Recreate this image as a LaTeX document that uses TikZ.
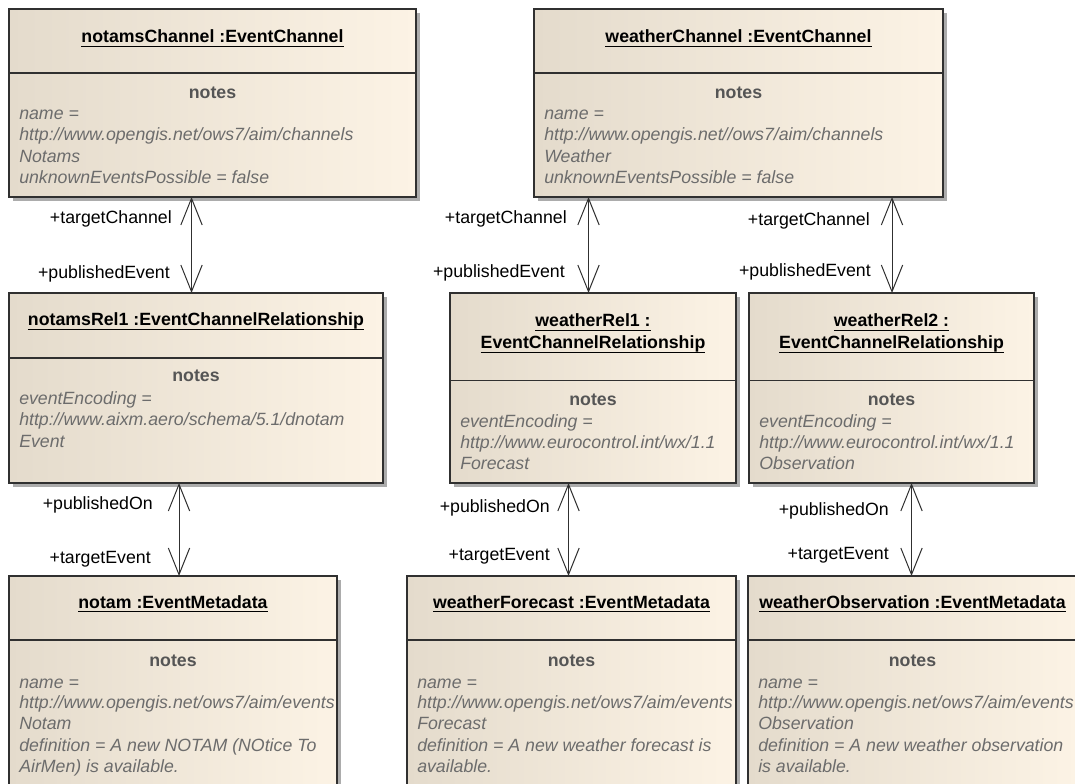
\documentclass[tikz,border=0pt]{standalone}
\usepackage{fontspec}
\setmainfont{Liberation Sans}
\usetikzlibrary{arrows.meta,fit,shadows}

\definecolor{boxL}{RGB}{228,219,204}
\definecolor{boxR}{RGB}{252,243,229}
\definecolor{edge}{RGB}{48,48,48}
\definecolor{shadegray}{RGB}{172,172,172}
\definecolor{notehead}{RGB}{85,85,85}
\definecolor{notetext}{RGB}{108,108,108}

% underlined object name: rule a fixed distance below the baseline
\newsavebox\ulbox
\newcommand\ulined[1]{\sbox\ulbox{#1}\rlap{\rule[-3pt]{\wd\ulbox}{0.75pt}}\usebox\ulbox}

\tikzset{
  objbox/.style={draw=edge, line width=0.9pt, inner sep=0pt, outer sep=0pt,
    left color=boxL, right color=boxR,
    drop shadow={shadow xshift=3pt, shadow yshift=-3pt, fill=shadegray, opacity=1}},
  divider/.style={draw=edge, line width=0.9pt},
  objtitle/.style={font=\fontsize{13.3}{16}\selectfont\bfseries, text=black, inner sep=0pt, anchor=base},
  notehdr/.style={font=\fontsize{13.3}{16}\selectfont\bfseries, text=notehead, inner sep=0pt, anchor=base},
  noteline/.style={font=\fontsize{13.3}{16}\selectfont\itshape, text=notetext, inner sep=0pt, anchor=base west},
  role/.style={font=\fontsize{13.3}{16}\selectfont, text=black, inner sep=0pt, anchor=base east},
  assoc/.style={draw=edge, line width=0.75pt,
    {Straight Barb[length=20pt,width=16pt]}-{Straight Barb[length=20pt,width=16pt]}},
}

\begin{document}
\begin{tikzpicture}[x=0.75pt,y=-0.75pt]
\useasboundingbox (0,0) rectangle (1075,784);
\fill[white] (0,0) rectangle (1075,784);
\clip (0,0) rectangle (1075,784);

% ---------- channels ----------
\node[objbox, fit={(9,9) (416,197)}] (nch) {};
\draw[divider] (nch.west |- 0,73) -- (nch.east |- 0,73);
\node[objtitle] (ncht) at (212.5,43) {\ulined{notamsChannel :EventChannel}};
\node[notehdr] (nchn) at (212.5,99) {notes};
\node[noteline] (nch1) at (19,120) {name =};
\node[noteline] (nch2) at (19,141) {http://www.opengis.net/ows7/aim/channels};
\node[noteline] (nch3) at (19,163) {Notams};
\node[noteline] (nch4) at (19,184) {unknownEventsPossible = false};

\node[objbox, fit={(534,9) (943,197)}] (wch) {};
\draw[divider] (wch.west |- 0,73) -- (wch.east |- 0,73);
\node[objtitle] (wcht) at (738.5,43) {\ulined{weatherChannel :EventChannel}};
\node[notehdr] (wchn) at (738.5,99) {notes};
\node[noteline] (wch1) at (544,120) {name =};
\node[noteline] (wch2) at (544,141) {http://www.opengis.net//ows7/aim/channels};
\node[noteline] (wch3) at (544,163) {Weather};
\node[noteline] (wch4) at (544,184) {unknownEventsPossible = false};

% ---------- relationships ----------
\node[objbox, fit={(9,293) (383,483)}] (nrel) {};
\draw[divider] (nrel.west |- 0,358) -- (nrel.east |- 0,358);
\node[objtitle] (nrelt) at (196,326) {\ulined{notamsRel1 :EventChannelRelationship}};
\node[notehdr] (nreln) at (196,382) {notes};
\node[noteline] (nrel1) at (19,404) {eventEncoding =};
\node[noteline] (nrel2) at (19,426) {http://www.aixm.aero/schema/5.1/dnotam};
\node[noteline] (nrel3) at (19,447) {Event};

\node[objbox, fit={(450,293) (736,483)}] (wrel1) {};
\draw[divider] (wrel1.west |- 0,380.5) -- (wrel1.east |- 0,380.5);
\node[objtitle] (wrel1ta) at (593,327) {\ulined{weatherRel1 :}};
\node[objtitle] (wrel1tb) at (593,349) {\ulined{EventChannelRelationship}};
\node[notehdr] (wrel1n) at (593,406) {notes};
\node[noteline] (wrel1a) at (460,427) {eventEncoding =};
\node[noteline] (wrel1b) at (460,448) {http://www.eurocontrol.int/wx/1.1};
\node[noteline] (wrel1c) at (460,469) {Forecast};

\node[objbox, fit={(749,293) (1034,483)}] (wrel2) {};
\draw[divider] (wrel2.west |- 0,380.5) -- (wrel2.east |- 0,380.5);
\node[objtitle] (wrel2ta) at (891.5,327) {\ulined{weatherRel2 :}};
\node[objtitle] (wrel2tb) at (891.5,349) {\ulined{EventChannelRelationship}};
\node[notehdr] (wrel2n) at (891.5,406) {notes};
\node[noteline] (wrel2a) at (759,427) {eventEncoding =};
\node[noteline] (wrel2b) at (759,448) {http://www.eurocontrol.int/wx/1.1};
\node[noteline] (wrel2c) at (759,469) {Observation};

% ---------- event metadata ----------
\node[objbox, fit={(9,576) (337,805)}] (nmeta) {};
\draw[divider] (nmeta.west |- 0,640) -- (nmeta.east |- 0,640);
\node[objtitle] (nmetat) at (173,608) {\ulined{notam :EventMetadata}};
\node[notehdr] (nmetan) at (173,666) {notes};
\node[noteline] (nmeta1) at (19,688) {name =};
\node[noteline] (nmeta2) at (19,708.5) {http://www.opengis.net/ows7/aim/events};
\node[noteline] (nmeta3) at (19,729.5) {Notam};
\node[noteline] (nmeta4) at (19,751) {definition = A new NOTAM (NOtice To};
\node[noteline] (nmeta5) at (19,772) {AirMen) is available.};

\node[objbox, fit={(407,576) (736,805)}] (fmeta) {};
\draw[divider] (fmeta.west |- 0,640) -- (fmeta.east |- 0,640);
\node[objtitle] (fmetat) at (571.5,608) {\ulined{weatherForecast :EventMetadata}};
\node[notehdr] (fmetan) at (571.5,666) {notes};
\node[noteline] (fmeta1) at (417,688) {name =};
\node[noteline] (fmeta2) at (417,708.5) {http://www.opengis.net/ows7/aim/events};
\node[noteline] (fmeta3) at (417,729.5) {Forecast};
\node[noteline] (fmeta4) at (417,751) {definition = A new weather forecast is};
\node[noteline] (fmeta5) at (417,772) {available.};

\node[objbox, fit={(748,576) (1077,805)}] (ometa) {};
\draw[divider] (ometa.west |- 0,640) -- (ometa.east |- 0,640);
\node[objtitle] (ometat) at (912.5,608) {\ulined{weatherObservation :EventMetadata}};
\node[notehdr] (ometan) at (912.5,666) {notes};
\node[noteline] (ometa1) at (758,688) {name =};
\node[noteline] (ometa2) at (758,708.5) {http://www.opengis.net/ows7/aim/events};
\node[noteline] (ometa3) at (758,729.5) {Observation};
\node[noteline] (ometa4) at (758,751) {definition = A new weather observation};
\node[noteline] (ometa5) at (758,772) {is available.};

% ---------- associations ----------
\draw[assoc] (nch.south -| 191.5,0) -- (nrel.north -| 191.5,0);
\draw[assoc] (wch.south -| 588.5,0) -- (wrel1.north -| 588.5,0);
\draw[assoc] (wch.south -| 892,0) -- (wrel2.north -| 892,0);
\draw[assoc] (nrel.south -| 179,0) -- (nmeta.north -| 179,0);
\draw[assoc] (wrel1.south -| 568.5,0) -- (fmeta.north -| 568.5,0);
\draw[assoc] (wrel2.south -| 911.5,0) -- (ometa.north -| 911.5,0);

% ---------- role names ----------
\node[role] (r1a) at (172,224) {+targetChannel};
\node[role] (r1b) at (170,279) {+publishedEvent};
\node[role] (r2a) at (567,224) {+targetChannel};
\node[role] (r2b) at (565,278) {+publishedEvent};
\node[role] (r3a) at (870,226) {+targetChannel};
\node[role] (r3b) at (871,277) {+publishedEvent};
\node[role] (r4a) at (153,509) {+publishedOn};
\node[role] (r4b) at (151,563) {+targetEvent};
\node[role] (r5a) at (550,512) {+publishedOn};
\node[role] (r5b) at (550,560) {+targetEvent};
\node[role] (r6a) at (889,515) {+publishedOn};
\node[role] (r6b) at (889,559) {+targetEvent};
\end{tikzpicture}
\end{document}
